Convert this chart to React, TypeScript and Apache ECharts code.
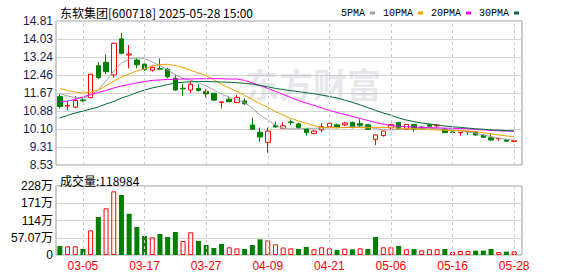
import React, { useEffect, useRef } from 'react';
import * as echarts from 'echarts';

const titleText = '东软集团[600718] 2025-05-28 15:00';
const volumeTitle = '成交量:118984';
const watermark = '东方财富';

const dates = [
  '02-28', '03-03', '03-04', '03-05', '03-06', '03-07', '03-10', '03-11', '03-12', '03-13',
  '03-14', '03-17', '03-18', '03-19', '03-20', '03-21', '03-24', '03-25', '03-26', '03-27',
  '03-28', '03-31', '04-01', '04-02', '04-03', '04-07', '04-08', '04-09', '04-10', '04-11',
  '04-14', '04-15', '04-16', '04-17', '04-18', '04-21', '04-22', '04-23', '04-24', '04-25',
  '04-28', '04-29', '04-30', '05-06', '05-07', '05-08', '05-09', '05-12', '05-13', '05-14',
  '05-15', '05-16', '05-19', '05-20', '05-21', '05-22', '05-23', '05-26', '05-27', '05-28',
];

const openP = [
  11.51, 11.10, 11.05, 11.37, 11.47, 12.86, 13.01, 12.46, 14.03, 13.33,
  13.11, 12.93, 12.67, 12.74, 12.70, 12.31, 11.88, 11.80, 11.87, 11.73,
  11.66, 11.26, 11.40, 11.25, 11.32, 10.27, 9.96, 9.52, 10.25, 10.13,
  10.41, 10.32, 10.10, 9.90, 10.06, 10.20, 10.28, 10.28, 10.39, 10.33,
  10.28, 9.65, 9.81, 10.15, 10.38, 10.09, 10.30, 10.18, 10.28, 10.24,
  10.09, 9.97, 9.94, 9.98, 9.97, 9.83, 9.72, 9.67, 9.63, 9.56,
];
const closeP = [
  11.08, 11.13, 11.35, 11.33, 12.49, 12.34, 12.60, 13.84, 13.40, 13.37,
  12.90, 12.70, 12.79, 12.71, 12.38, 11.80, 11.85, 12.05, 11.78, 11.63,
  11.36, 11.28, 11.29, 11.48, 11.20, 10.09, 9.75, 10.01, 10.19, 10.24,
  10.38, 10.17, 9.94, 10.01, 10.20, 10.35, 10.19, 10.36, 10.16, 10.26,
  10.09, 9.84, 10.01, 10.29, 10.13, 10.30, 10.09, 10.12, 10.22, 10.27,
  9.94, 9.95, 9.96, 10.00, 9.84, 9.74, 9.62, 9.69, 9.57, 9.59,
];
const lowP = [
  11.00, 10.92, 11.00, 11.27, 11.44, 12.28, 12.49, 12.34, 13.36, 12.75,
  12.75, 12.63, 12.60, 12.68, 12.31, 11.77, 11.55, 11.66, 11.73, 11.48,
  11.32, 11.00, 11.27, 11.24, 11.15, 10.06, 9.55, 9.07, 10.16, 10.09,
  10.27, 10.10, 9.81, 9.87, 9.96, 10.16, 10.13, 10.22, 10.13, 10.16,
  10.06, 9.40, 9.77, 10.10, 10.06, 10.08, 9.98, 10.07, 10.19, 10.17,
  9.93, 9.84, 9.81, 9.84, 9.80, 9.73, 9.59, 9.59, 9.54, 9.52,
];
const highP = [
  11.61, 11.32, 11.54, 11.48, 12.50, 13.01, 13.36, 13.86, 14.29, 13.76,
  13.18, 12.95, 12.82, 13.18, 12.77, 12.45, 12.05, 12.16, 12.05, 11.84,
  11.67, 11.29, 11.51, 11.58, 11.44, 10.59, 10.16, 10.16, 10.42, 10.39,
  10.52, 10.38, 10.16, 10.06, 10.35, 10.39, 10.33, 10.42, 10.42, 10.52,
  10.32, 9.85, 10.02, 10.33, 10.42, 10.31, 10.31, 10.22, 10.33, 10.29,
  10.15, 10.03, 9.97, 10.01, 10.00, 9.89, 9.91, 9.70, 9.67, 9.60,
];

const ma5 = [
  11.65, 11.54, 11.47, 11.45, 11.58, 11.80, 12.20, 12.63, 12.98, 13.15,
  13.21, 13.17, 13.02, 12.87, 12.68, 12.46, 12.31, 12.22, 12.11, 11.98,
  11.80, 11.63, 11.48, 11.37, 11.25, 11.02, 10.71, 10.49, 10.27, 10.12,
  10.10, 10.11, 10.12, 10.13, 10.14, 10.15, 10.16, 10.17, 10.18, 10.20,
  10.18, 10.12, 10.06, 10.06, 10.08, 10.10, 10.11, 10.13, 10.13, 10.11,
  10.10, 10.06, 10.03, 9.97, 9.92, 9.84, 9.77, 9.70, 9.65, 9.62,
];
const ma10 = [
  11.87, 11.78, 11.71, 11.67, 11.71, 11.80, 11.98, 12.19, 12.37, 12.50,
  12.63, 12.72, 12.85, 12.91, 12.92, 12.87, 12.78, 12.66, 12.54, 12.43,
  12.24, 12.05, 11.89, 11.73, 11.56, 11.39, 11.21, 11.04, 10.86, 10.71,
  10.56, 10.45, 10.35, 10.25, 10.17, 10.16, 10.15, 10.16, 10.17, 10.16,
  10.15, 10.17, 10.17, 10.17, 10.13, 10.12, 10.10, 10.09, 10.07, 10.06,
  10.04, 10.04, 10.03, 10.00, 9.98, 9.94, 9.89, 9.84, 9.80, 9.76,
];
const ma20 = [
  11.28, 11.32, 11.39, 11.50, 11.61, 11.69, 11.78, 11.89, 11.98, 12.04,
  12.11, 12.17, 12.22, 12.24, 12.26, 12.27, 12.28, 12.28, 12.29, 12.29,
  12.30, 12.29, 12.28, 12.28, 12.22, 12.11, 12.00, 11.87, 11.74, 11.61,
  11.47, 11.34, 11.23, 11.13, 11.02, 10.91, 10.82, 10.73, 10.65, 10.56,
  10.47, 10.38, 10.32, 10.25, 10.22, 10.20, 10.19, 10.17, 10.16, 10.15,
  10.14, 10.13, 10.12, 10.11, 10.08, 10.06, 10.04, 10.02, 10.01, 10.00,
];
const ma30 = [
  10.58, 10.69, 10.80, 10.88, 10.97, 11.06, 11.19, 11.30, 11.45, 11.56,
  11.69, 11.80, 11.89, 11.96, 12.04, 12.11, 12.14, 12.16, 12.17, 12.17,
  12.16, 12.15, 12.14, 12.12, 12.09, 12.06, 12.00, 11.94, 11.87, 11.82,
  11.77, 11.73, 11.68, 11.64, 11.58, 11.52, 11.45, 11.36, 11.26, 11.15,
  11.03, 10.91, 10.80, 10.70, 10.58, 10.49, 10.42, 10.36, 10.32, 10.27,
  10.23, 10.20, 10.17, 10.14, 10.11, 10.09, 10.06, 10.05, 10.03, 10.02,
];

// volume in 万
const volume = [
  29.8, 28.7, 28.7, 19.9, 81.6, 125.7, 154.4, 210.6, 198.5, 136.7,
  92.6, 62.9, 58.4, 69.5, 59.5, 76.1, 46.3, 75.0, 46.3, 33.1,
  23.2, 36.4, 25.4, 22.0, 19.9, 33.1, 51.8, 48.5, 35.3, 24.8,
  22.0, 19.9, 26.5, 18.7, 25.4, 22.0, 16.5, 21.0, 18.7, 22.0,
  19.9, 59.5, 25.4, 25.4, 29.8, 18.7, 19.9, 15.4, 18.7, 18.7,
  19.9, 9.9, 13.2, 13.2, 14.3, 14.3, 19.9, 9.9, 11.0, 11.9,
];

const priceTicks = ['8.53', '9.31', '10.10', '10.88', '11.67', '12.46', '13.24', '14.03', '14.81'];
const PRICE_MIN = 8.53;
const PRICE_MAX = 14.81;
const PRICE_STEP = 0.785;
const volTicks = ['0', '57.07万', '114万', '171万', '228万'];
const VOL_STEP = 57.07;
const VOL_MAX = 228.28;
const xTicks = ['03-05', '03-17', '03-27', '04-09', '04-21', '05-06', '05-16', '05-28'];
const maNames = ['5PMA', '10PMA', '20PMA', '30PMA'];

const RED = '#ff0000';
const GREEN = '#008000';
const MA_COLORS = ['#a0a0a0', '#f4a000', '#ff00ff', '#006b33'];

export default function App() {
  const ref = useRef<HTMLDivElement>(null);
  useEffect(() => {
    if (!ref.current) return;
    const chart = echarts.init(ref.current, undefined, { renderer: 'svg' });
    const candleData = dates.map((_, i) => [openP[i], closeP[i], lowP[i], highP[i]]);
    const volData = volume.map((v, i) => {
      const up = i === 0 ? closeP[i] > openP[i] : closeP[i] > closeP[i - 1];
      return {
        value: v,
        itemStyle: up
          ? { color: 'rgba(0,0,0,0)', borderColor: RED, borderWidth: 1 }
          : { color: GREEN, borderColor: GREEN, borderWidth: 0 },
      };
    });
    const vLines = {
      silent: true,
      symbol: 'none',
      label: { show: false },
      lineStyle: { color: '#cccccc', type: [3, 3], width: 1 },
      data: xTicks.map((d) => ({ xAxis: d })),
      animation: false,
    };
    const maSeries = [ma5, ma10, ma20, ma30].map((arr, k) => ({
      name: maNames[k],
      type: 'line',
      data: arr,
      xAxisIndex: 1,
      yAxisIndex: 1,
      showSymbol: false,
      symbol: 'none',
      lineStyle: { width: 1, color: MA_COLORS[k] },
      itemStyle: { color: MA_COLORS[k] },
      z: 4,
    }));
    const option: any = {
      animation: false,
      backgroundColor: '#ffffff',
      title: [
        {
          text: titleText,
          left: 55,
          top: 1,
          textStyle: { fontSize: 12, fontWeight: 'normal', color: '#000', fontFamily: 'Noto Sans CJK SC' },
        },
        {
          text: volumeTitle,
          left: 55,
          top: 169,
          textStyle: { fontSize: 12, fontWeight: 'normal', color: '#000', fontFamily: 'Noto Sans CJK SC' },
        },
      ],
      legend: {
        data: maNames.map((n, k) => ({ name: n, itemStyle: { color: MA_COLORS[k] } })),
        left: 336,
        top: 3,
        align: 'right',
        icon: 'rect',
        itemWidth: 5,
        itemHeight: 3,
        itemGap: 8,
        selectedMode: false,
        textStyle: { fontSize: 10, color: '#000', fontFamily: 'Liberation Mono' },
      },
      graphic: [
        {
          type: 'text',
          x: 245,
          y: 66,
          z: 1,
          silent: true,
          style: {
            text: watermark,
            fontSize: 34,
            fontWeight: 'bold',
            fontFamily: 'Noto Sans CJK SC',
            fill: 'rgba(170,170,190,0.3)',
          },
        },
      ],
      grid: [
        { left: 56, top: 21, width: 466, height: 144, show: true, borderColor: '#999', borderWidth: 1, backgroundColor: 'transparent' },
        { left: 56, top: 21, width: 462, height: 144 },
        { left: 56, top: 186, width: 466, height: 69, show: true, borderColor: '#999', borderWidth: 1, backgroundColor: 'transparent' },
        { left: 56, top: 186, width: 462, height: 69 },
      ],
      xAxis: [
        { gridIndex: 0, type: 'value', min: 0, max: 1, show: false },
        {
          gridIndex: 1, type: 'category', data: dates, boundaryGap: true,
          axisLine: { show: false }, axisTick: { show: false }, axisLabel: { show: false }, splitLine: { show: false },
        },
        { gridIndex: 2, type: 'value', min: 0, max: 1, show: false },
        {
          gridIndex: 3, type: 'category', data: dates, boundaryGap: true,
          axisLine: { show: false }, axisTick: { show: false }, splitLine: { show: false },
          axisLabel: {
            interval: (_i: number, v: string) => xTicks.includes(v),
            color: RED, fontSize: 12, fontFamily: 'Liberation Sans', margin: 5,
          },
        },
      ],
      yAxis: [
        {
          gridIndex: 0, type: 'value', min: PRICE_MIN, max: PRICE_MAX, interval: PRICE_STEP,
          axisLine: { show: false }, axisTick: { show: false },
          splitLine: { show: true, lineStyle: { color: '#d4d4d4', width: 1 } },
          axisLabel: {
            margin: 3, fontSize: 12, color: '#1a1a50', fontFamily: 'Liberation Sans',
            formatter: (v: number) => priceTicks[Math.round((v - PRICE_MIN) / PRICE_STEP)] ?? '',
          },
        },
        { gridIndex: 1, type: 'value', min: PRICE_MIN, max: PRICE_MAX, show: false },
        {
          gridIndex: 2, type: 'value', min: 0, max: VOL_MAX, interval: VOL_STEP,
          axisLine: { show: false }, axisTick: { show: false },
          splitLine: { show: true, lineStyle: { color: '#d4d4d4', width: 1 } },
          axisLabel: {
            margin: 3, fontSize: 12, color: '#000', fontFamily: 'Liberation Sans, Noto Sans CJK SC',
            formatter: (v: number) => volTicks[Math.round(v / VOL_STEP)] ?? '',
          },
        },
        { gridIndex: 3, type: 'value', min: 0, max: VOL_MAX, show: false },
      ],
      series: [
        {
          name: 'K',
          type: 'candlestick',
          data: candleData,
          xAxisIndex: 1,
          yAxisIndex: 1,
          barWidth: 5,
          itemStyle: {
            color: 'rgba(0,0,0,0)',
            color0: GREEN,
            borderColor: RED,
            borderColor0: GREEN,
            borderWidth: 1,
          },
          markLine: vLines,
          z: 3,
        },
        ...maSeries,
        {
          name: 'VOL',
          type: 'bar',
          data: volData,
          xAxisIndex: 3,
          yAxisIndex: 3,
          barWidth: 5,
          markLine: vLines,
          z: 3,
        },
      ],
    };
    chart.setOption(option);
    return () => chart.dispose();
  }, []);
  return <div ref={ref} style={{ width: 578, height: 276, position: 'absolute', left: 0, top: 0 }} />;
}
